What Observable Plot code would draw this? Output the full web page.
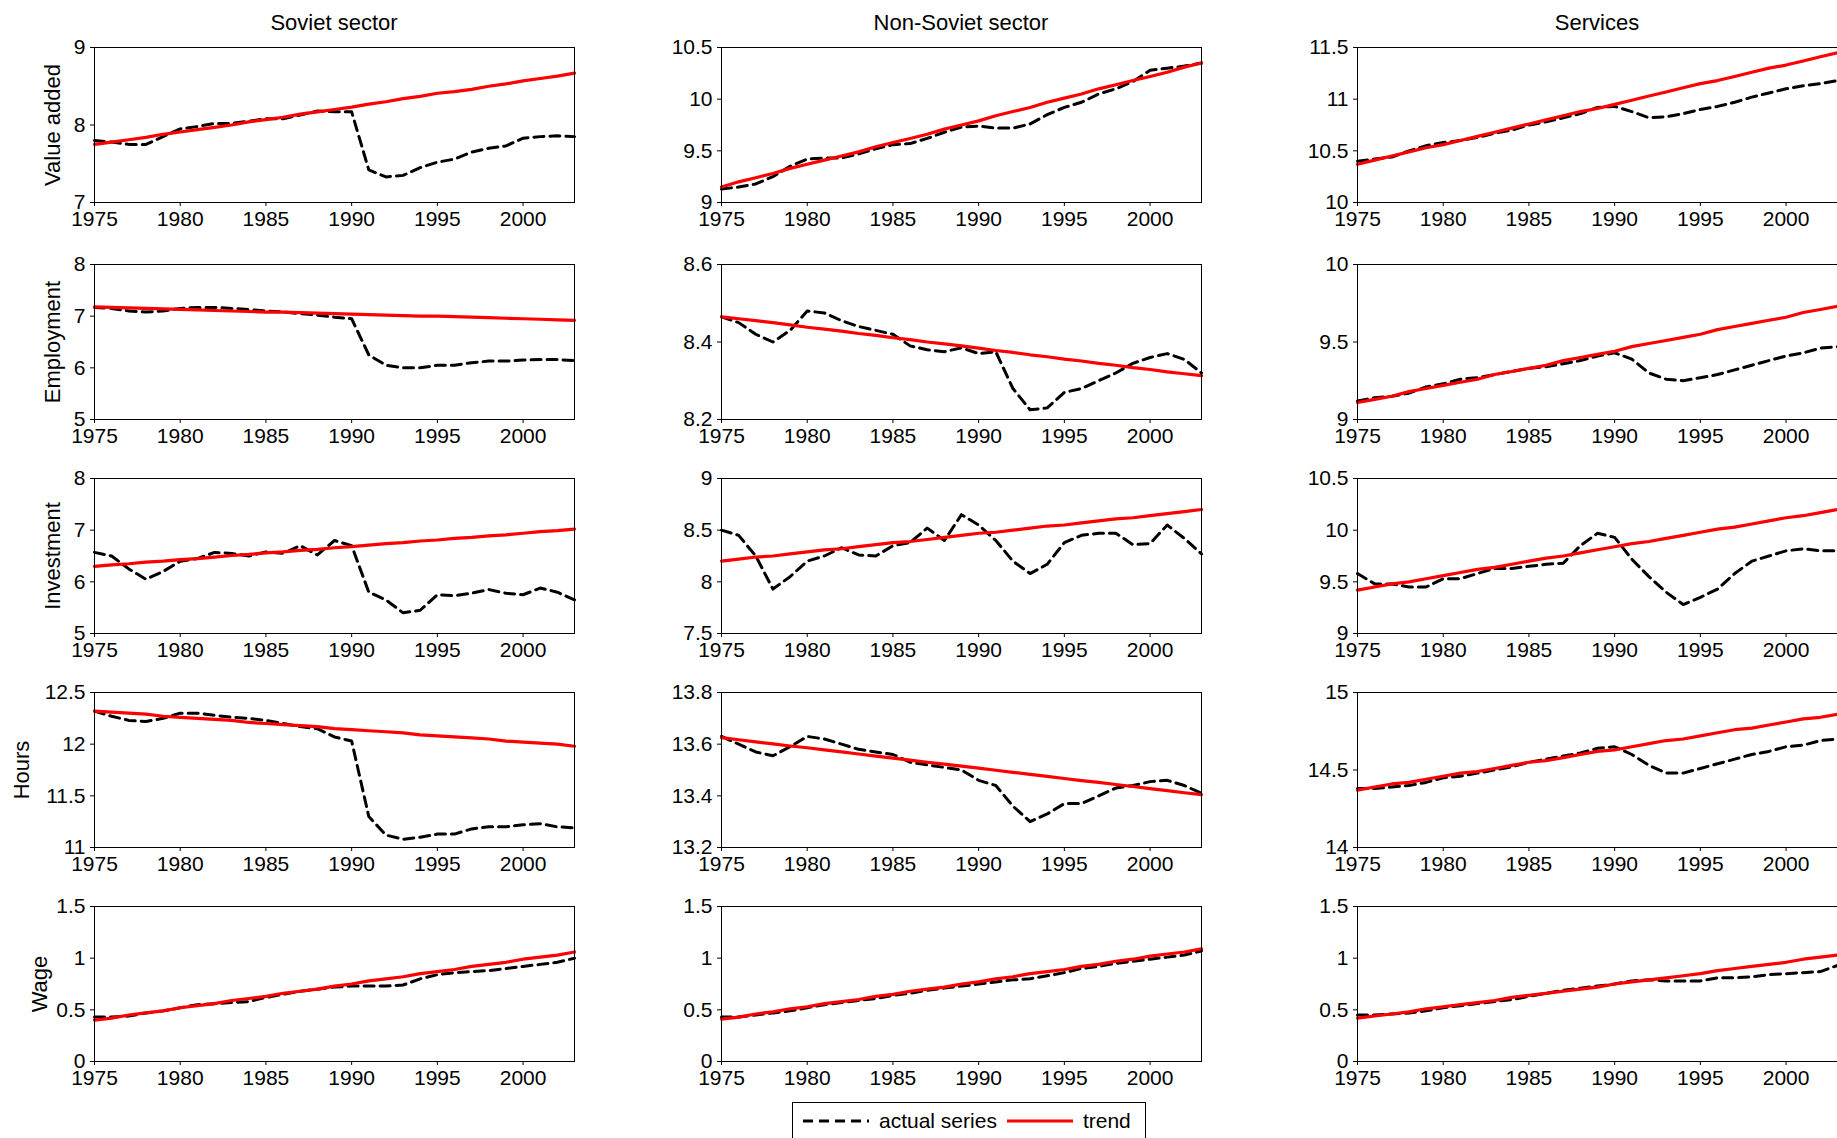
<!DOCTYPE html>
<html><head><meta charset="utf-8">
<script src="https://cdn.jsdelivr.net/npm/d3@7"></script>
<script src="https://cdn.jsdelivr.net/npm/@observablehq/plot@0.6"></script>
<style>
body{margin:0;background:#fff;font-family:"Liberation Sans",Arial,sans-serif}
#wrap{position:relative;width:1837px;height:1138px}
.t{position:absolute;font-size:22px;text-align:center;width:480px}
.yl{position:absolute;font-size:22px;transform:rotate(-90deg);transform-origin:center;width:160px;text-align:center}
#legend{position:absolute;left:792px;top:1102px;width:354px;height:36px;border:1px solid #000;border-bottom:none;font-size:21px;display:flex;align-items:center;gap:8px;padding-left:8px;box-sizing:border-box}
</style></head><body>
<div id="wrap"></div>
<script>
const years = d3.range(1975, 2004);
const sectors = ["Soviet sector", "Non-Soviet sector", "Services"];
const variables = ["Value added", "Employment", "Investment", "Hours", "Wage"];

const yDomains = [
  [[7, 9], [9, 10.5], [10, 11.5]],
  [[5, 8], [8.2, 8.6], [9, 10]],
  [[5, 8], [7.5, 9], [9, 10.5]],
  [[11, 12.5], [13.2, 13.8], [14, 15]],
  [[0, 1.5], [0, 1.5], [0, 1.5]]
];
const yTicks = [
  [[7, 8, 9], [9, 9.5, 10, 10.5], [10, 10.5, 11, 11.5]],
  [[5, 6, 7, 8], [8.2, 8.4, 8.6], [9, 9.5, 10]],
  [[5, 6, 7, 8], [7.5, 8, 8.5, 9], [9, 9.5, 10, 10.5]],
  [[11, 11.5, 12, 12.5], [13.2, 13.4, 13.6, 13.8], [14, 14.5, 15]],
  [[0, 0.5, 1, 1.5], [0, 0.5, 1, 1.5], [0, 0.5, 1, 1.5]]
];

const actual = [
  [
    [7.8,7.78,7.75,7.75,7.85,7.95,7.98,8.02,8.02,8.05,8.08,8.08,8.13,8.18,8.17,8.17,7.42,7.33,7.35,7.45,7.52,7.56,7.65,7.7,7.73,7.83,7.85,7.86,7.85],
    [9.13,9.15,9.18,9.25,9.35,9.42,9.43,9.43,9.47,9.52,9.56,9.57,9.62,9.68,9.73,9.74,9.72,9.72,9.76,9.85,9.92,9.97,10.05,10.1,10.17,10.28,10.3,10.32,10.35],
    [10.4,10.42,10.44,10.5,10.55,10.58,10.6,10.63,10.67,10.7,10.75,10.78,10.82,10.86,10.92,10.93,10.88,10.82,10.83,10.86,10.9,10.93,10.97,11.02,11.06,11.1,11.13,11.15,11.18]
  ],
  [
    [7.17,7.15,7.1,7.08,7.1,7.15,7.17,7.17,7.15,7.13,7.1,7.08,7.05,7.02,6.98,6.95,6.25,6.05,6.0,6.0,6.05,6.05,6.1,6.13,6.13,6.15,6.16,6.16,6.14],
    [8.465,8.45,8.42,8.4,8.43,8.48,8.475,8.455,8.44,8.43,8.42,8.39,8.38,8.375,8.385,8.37,8.375,8.28,8.225,8.23,8.27,8.28,8.3,8.32,8.345,8.36,8.37,8.355,8.32],
    [9.12,9.14,9.15,9.17,9.21,9.23,9.26,9.27,9.29,9.31,9.33,9.34,9.36,9.38,9.41,9.43,9.39,9.3,9.26,9.25,9.27,9.29,9.32,9.35,9.38,9.41,9.43,9.46,9.47]
  ],
  [
    [6.57,6.5,6.25,6.05,6.2,6.4,6.45,6.57,6.55,6.5,6.58,6.55,6.7,6.52,6.8,6.7,5.8,5.65,5.4,5.45,5.75,5.73,5.78,5.85,5.78,5.75,5.88,5.8,5.65],
    [8.5,8.45,8.25,7.93,8.05,8.2,8.25,8.33,8.26,8.25,8.35,8.38,8.52,8.4,8.65,8.55,8.4,8.2,8.08,8.17,8.38,8.45,8.47,8.47,8.36,8.37,8.55,8.42,8.27],
    [9.58,9.48,9.48,9.45,9.45,9.53,9.53,9.58,9.63,9.63,9.65,9.67,9.68,9.85,9.97,9.93,9.72,9.55,9.4,9.28,9.35,9.43,9.58,9.7,9.75,9.8,9.82,9.8,9.8]
  ],
  [
    [12.32,12.27,12.23,12.22,12.25,12.3,12.3,12.28,12.26,12.25,12.23,12.2,12.17,12.15,12.07,12.03,11.3,11.12,11.08,11.1,11.13,11.13,11.18,11.2,11.2,11.22,11.23,11.2,11.19],
    [13.63,13.6,13.57,13.555,13.59,13.63,13.62,13.6,13.58,13.57,13.56,13.53,13.52,13.51,13.5,13.46,13.44,13.36,13.3,13.33,13.37,13.37,13.4,13.43,13.44,13.455,13.46,13.44,13.41],
    [14.38,14.38,14.39,14.4,14.42,14.45,14.46,14.48,14.5,14.52,14.55,14.57,14.59,14.61,14.64,14.65,14.6,14.53,14.48,14.48,14.51,14.54,14.57,14.6,14.62,14.65,14.66,14.69,14.7]
  ],
  [
    [0.43,0.43,0.44,0.47,0.49,0.52,0.55,0.56,0.57,0.58,0.62,0.65,0.68,0.7,0.72,0.73,0.73,0.73,0.74,0.8,0.84,0.86,0.87,0.88,0.9,0.92,0.94,0.96,1.0],
    [0.43,0.43,0.45,0.47,0.49,0.52,0.55,0.57,0.59,0.61,0.64,0.66,0.69,0.71,0.73,0.75,0.77,0.79,0.8,0.83,0.86,0.9,0.92,0.95,0.97,0.99,1.01,1.03,1.07],
    [0.45,0.45,0.46,0.47,0.49,0.52,0.54,0.56,0.58,0.6,0.63,0.66,0.69,0.71,0.73,0.75,0.78,0.79,0.78,0.78,0.78,0.81,0.81,0.82,0.84,0.85,0.86,0.87,0.93]
  ]
];

const trend = [
  [
    [7.75,7.78,7.81,7.84,7.88,7.91,7.94,7.97,8.0,8.04,8.07,8.1,8.14,8.17,8.2,8.23,8.27,8.3,8.34,8.37,8.41,8.43,8.46,8.5,8.53,8.57,8.6,8.63,8.67],
    [9.15,9.2,9.24,9.28,9.33,9.37,9.41,9.45,9.49,9.54,9.58,9.62,9.66,9.71,9.75,9.79,9.84,9.88,9.92,9.97,10.01,10.05,10.1,10.14,10.18,10.22,10.26,10.31,10.35],
    [10.37,10.41,10.45,10.49,10.53,10.56,10.6,10.64,10.68,10.72,10.76,10.8,10.84,10.88,10.91,10.95,10.99,11.03,11.07,11.11,11.15,11.18,11.22,11.26,11.3,11.33,11.37,11.41,11.45]
  ],
  [
    [7.18,7.17,7.16,7.15,7.14,7.13,7.12,7.11,7.1,7.09,7.08,7.08,7.07,7.06,7.05,7.04,7.03,7.02,7.01,7.0,7.0,6.99,6.98,6.97,6.96,6.95,6.94,6.93,6.92],
    [8.465,8.46,8.455,8.45,8.444,8.438,8.433,8.428,8.422,8.417,8.411,8.406,8.4,8.395,8.39,8.384,8.378,8.373,8.367,8.362,8.356,8.351,8.345,8.34,8.334,8.329,8.323,8.318,8.313],
    [9.11,9.13,9.15,9.18,9.2,9.22,9.24,9.26,9.29,9.31,9.33,9.35,9.38,9.4,9.42,9.44,9.47,9.49,9.51,9.53,9.55,9.58,9.6,9.62,9.64,9.66,9.69,9.71,9.73]
  ],
  [
    [6.3,6.33,6.35,6.38,6.4,6.43,6.45,6.48,6.51,6.53,6.56,6.58,6.61,6.63,6.66,6.68,6.71,6.74,6.76,6.79,6.81,6.84,6.86,6.89,6.91,6.94,6.97,6.99,7.02],
    [8.2,8.22,8.24,8.25,8.27,8.29,8.31,8.32,8.34,8.36,8.38,8.39,8.41,8.43,8.45,8.47,8.48,8.5,8.52,8.54,8.55,8.57,8.59,8.61,8.62,8.64,8.66,8.68,8.7],
    [9.42,9.45,9.48,9.5,9.53,9.56,9.59,9.62,9.64,9.67,9.7,9.73,9.75,9.78,9.81,9.84,9.87,9.89,9.92,9.95,9.98,10.01,10.03,10.06,10.09,10.12,10.14,10.17,10.2]
  ],
  [
    [12.32,12.31,12.3,12.29,12.27,12.26,12.25,12.24,12.23,12.21,12.2,12.19,12.18,12.17,12.15,12.14,12.13,12.12,12.11,12.09,12.08,12.07,12.06,12.05,12.03,12.02,12.01,12.0,11.98],
    [13.625,13.617,13.609,13.601,13.593,13.586,13.578,13.57,13.562,13.554,13.546,13.538,13.53,13.523,13.515,13.507,13.499,13.491,13.483,13.475,13.467,13.459,13.452,13.444,13.436,13.428,13.42,13.412,13.405],
    [14.37,14.39,14.41,14.42,14.44,14.46,14.48,14.49,14.51,14.53,14.55,14.56,14.58,14.6,14.62,14.63,14.65,14.67,14.69,14.7,14.72,14.74,14.76,14.77,14.79,14.81,14.83,14.84,14.86]
  ],
  [
    [0.4,0.42,0.45,0.47,0.49,0.52,0.54,0.56,0.59,0.61,0.63,0.66,0.68,0.7,0.73,0.75,0.78,0.8,0.82,0.85,0.87,0.89,0.92,0.94,0.96,0.99,1.01,1.03,1.06],
    [0.41,0.43,0.46,0.48,0.51,0.53,0.56,0.58,0.6,0.63,0.65,0.68,0.7,0.72,0.75,0.77,0.8,0.82,0.85,0.87,0.89,0.92,0.94,0.97,0.99,1.02,1.04,1.06,1.09],
    [0.42,0.44,0.46,0.48,0.51,0.53,0.55,0.57,0.59,0.62,0.64,0.66,0.68,0.7,0.72,0.75,0.77,0.79,0.81,0.83,0.85,0.88,0.9,0.92,0.94,0.96,0.99,1.01,1.03]
  ]
];

const colLeft = [94, 721, 1357];
const rowTop = [47, 264, 478, 692, 906];
const labelX = [53, 53, 53, 22, 40];
const W = 480, H = 155, mL = 62, mT = 12, mB = 40, mR = 8;
const wrap = document.getElementById("wrap");

sectors.forEach((s, c) => {
  const t = document.createElement("div");
  t.className = "t"; t.textContent = s;
  t.style.left = colLeft[c] + "px"; t.style.top = "10px";
  wrap.appendChild(t);
});

variables.forEach((v, r) => {
  const l = document.createElement("div");
  l.className = "yl"; l.textContent = v;
  l.style.left = (labelX[r] - 80) + "px"; l.style.top = (rowTop[r] + H / 2 - 13) + "px";
  wrap.appendChild(l);

  sectors.forEach((s, c) => {
    const rows = years.map((y, i) => ({year: y, a: actual[r][c][i], t: trend[r][c][i]}));
    const chart = Plot.plot({
      width: W + mL + mR, height: H + mT + mB,
      marginLeft: mL, marginRight: mR, marginTop: mT, marginBottom: mB,
      style: {fontFamily: "Liberation Sans, Arial, sans-serif", fontSize: "21px", color: "#000", overflow: "visible"},
      x: {domain: [1975, 2003], ticks: [1975, 1980, 1985, 1990, 1995, 2000], tickFormat: d => String(d), label: null, tickSize: 4, tickPadding: 5},
      y: {domain: yDomains[r][c], ticks: yTicks[r][c], tickFormat: d => String(d), label: null, tickSize: 4, tickPadding: 5},
      marks: [
        Plot.lineY(rows, {x: "year", y: "a", stroke: "#000", strokeWidth: 3, strokeDasharray: "10,6"}),
        Plot.lineY(rows, {x: "year", y: "t", stroke: "#ff0000", strokeWidth: 3.2}),
        Plot.frame({stroke: "#000", strokeWidth: 1})
      ]
    });
    chart.style.position = "absolute";
    chart.style.left = (colLeft[c] - mL) + "px";
    chart.style.top = (rowTop[r] - mT) + "px";
    wrap.appendChild(chart);
  });
});

const leg = document.createElement("div");
leg.id = "legend";
leg.innerHTML = '<svg width="70" height="10"><line x1="2" y1="5" x2="68" y2="5" stroke="#000" stroke-width="3" stroke-dasharray="10,6"/></svg><span>actual series</span>' +
  '<svg width="70" height="10"><line x1="2" y1="5" x2="68" y2="5" stroke="#ff0000" stroke-width="3"/></svg><span>trend</span>';
wrap.appendChild(leg);
</script>
</body></html>
